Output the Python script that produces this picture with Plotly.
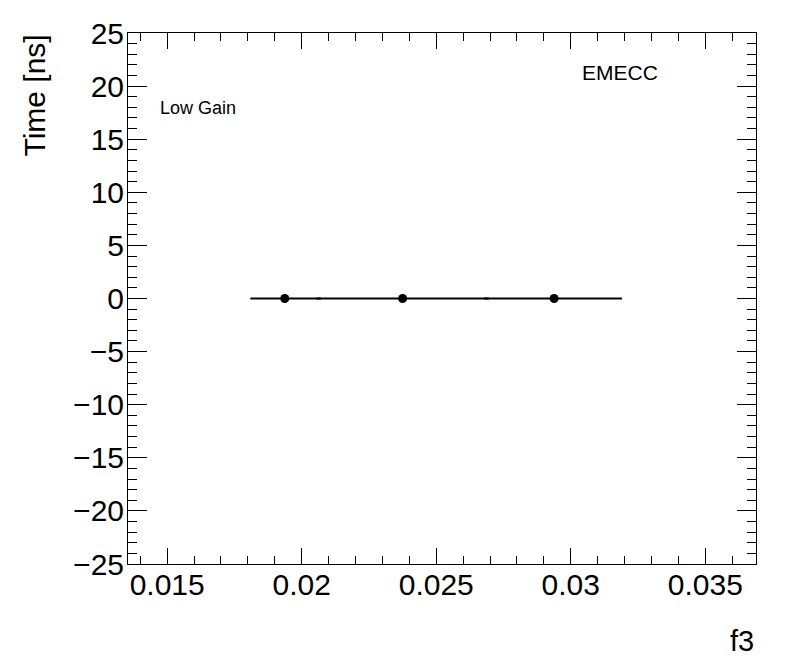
import plotly.graph_objects as go

# Data
f3_values = [0.01937, 0.02375, 0.02938]
time_values = [0.0, 0.0, 0.0]
f3_err_minus = [0.00128, 0.0032, 0.0026]
f3_err_plus = [0.00135, 0.0032, 0.00252]
time_err = [0.0, 0.0, 0.0]

x_range = [0.013544, 0.036883]
y_range = [-25, 25]

FONT = "Liberation Sans, Arial, Helvetica, sans-serif"

fig = go.Figure()
fig.add_trace(go.Scatter(
    x=f3_values, y=time_values,
    mode="markers",
    marker=dict(color="black", size=9, symbol="circle"),
    error_x=dict(type="data", symmetric=False, array=f3_err_plus,
                 arrayminus=f3_err_minus, color="black", thickness=2, width=0),
    error_y=dict(type="data", array=time_err, color="black", thickness=2, width=0),
    showlegend=False,
))

fig.update_layout(
    width=796, height=672,
    margin=dict(l=127.5, r=40, t=33, b=108),
    paper_bgcolor="white", plot_bgcolor="white",
    font=dict(family=FONT, color="black"),
    xaxis=dict(
        range=x_range, showgrid=False, zeroline=False,
        showline=True, linecolor="black", linewidth=1, mirror="allticks",
        ticks="inside", ticklen=16, tickcolor="black", tickwidth=1,
        tick0=0.015, dtick=0.005, tickformat="~g",
        tickfont=dict(size=30, family=FONT), ticklabelstandoff=-6,
        minor=dict(ticks="inside", ticklen=8, dtick=0.001, tick0=0.015,
                   tickcolor="black", showgrid=False),
    ),
    yaxis=dict(
        range=y_range, showgrid=False, zeroline=False,
        showline=True, linecolor="black", linewidth=1, mirror="allticks",
        ticks="inside", ticklen=19, tickcolor="black", tickwidth=1,
        tick0=0, dtick=5,
        tickfont=dict(size=30, family=FONT), ticklabelstandoff=-3,
        minor=dict(ticks="inside", ticklen=9, dtick=1, tick0=0,
                   tickcolor="black", showgrid=False),
    ),
    annotations=[
        dict(text="Low Gain", xref="paper", yref="paper", x=(157.5 - 127.5) / 628.5,
             y=(564 - 108) / 531, xanchor="left", yanchor="middle", showarrow=False,
             font=dict(size=18, family=FONT)),
        dict(text="EMECC", xref="paper", yref="paper", x=(580 - 127.5) / 628.5,
             y=(564 - 72) / 531, xanchor="left", yanchor="middle", showarrow=False,
             font=dict(size=21, family=FONT)),
        dict(text="f3", xref="paper", yref="paper", x=(756 - 127.5) / 628.5,
             y=(564 - 641) / 531, xanchor="right", yanchor="middle", showarrow=False,
             font=dict(size=29, family=FONT)),
        dict(text="Time [ns]", xref="paper", yref="paper", x=(33 - 127.5) / 628.5,
             y=1.0, xanchor="center", yanchor="top", textangle=-90, showarrow=False,
             font=dict(size=30, family=FONT)),
    ],
)

fig.write_html("out.html", config={"displayModeBar": False},
               post_script="document.body.style.margin='0';")
